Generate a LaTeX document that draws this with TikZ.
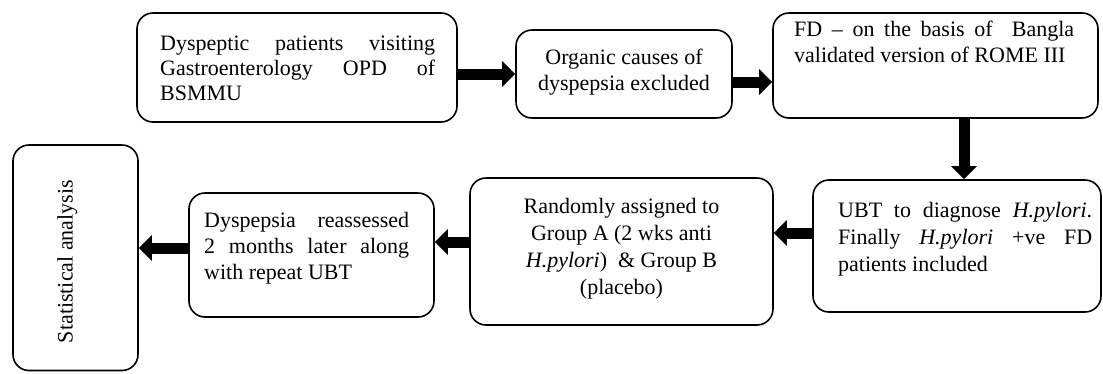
\documentclass[tikz,border=0pt]{standalone}
\usepackage{fontspec}
\setmainfont{Liberation Serif}
\usetikzlibrary{arrows.meta}
\newcommand\boxfont[1]{\fontsize{22}{#1}\selectfont\tolerance=10000 \hyphenpenalty=10000 }
\tikzset{
  box/.style={draw, line width=1.6pt, rounded corners=16pt, inner sep=0pt},
  jtxt/.style={inner sep=0pt, align=justify, anchor=north west},
  ctxt/.style={inner sep=0pt, align=center, anchor=north},
  blk/.style={line width=11pt, -{Triangle[width=25pt,length=13pt]}},
}
\begin{document}
\begin{tikzpicture}[x=1pt,y=-1pt]
\useasboundingbox (0,0) rectangle (1103,373);
% boxes
\node[box, minimum width=320pt, minimum height=109pt] (b1) at (297,67.5) {};
\node[box, minimum width=216pt, minimum height=88pt] (b2) at (624,74) {};
\node[box, minimum width=325pt, minimum height=105pt] (b3) at (935.5,65.5) {};
\node[box, minimum width=288pt, minimum height=132pt] (b4) at (957,246) {};
\node[box, minimum width=303pt, minimum height=147pt] (b5) at (621.5,251.5) {};
\node[box, minimum width=245pt, minimum height=124pt] (b6) at (311.5,255) {};
\node[box, minimum width=125pt, minimum height=225.5pt] (st) at (75.5,257.75) {};
% texts
\node[jtxt, text width=275pt, font=\boxfont{25}] (t1) at (160,32.5)
  {\strut Dyspeptic patients visiting\linebreak Gastroenterology OPD of\linebreak BSMMU};
\node[ctxt, font=\boxfont{26}] (t2) at (624,45.8)
  {\strut Organic causes of\\dyspepsia excluded};
\node[jtxt, text width=280pt, font=\boxfont{26}] (t3) at (794,17.8)
  {\strut FD -- on the basis of~ Bangla\linebreak validated version of ROME III};
\node[jtxt, text width=254pt, font=\boxfont{27}] (t4) at (838,198.1)
  {\strut UBT to diagnose \textit{H.pylori}.\linebreak Finally \textit{H.pylori} +ve FD\linebreak patients included};
\node[ctxt, font=\boxfont{27}] (t5) at (621.5,194.1)
  {\strut Randomly assigned to\\Group A (2 wks anti\\\textit{H.pylori})~ \& Group B\\(placebo)};
\node[jtxt, text width=205pt, font=\boxfont{26}] (t6) at (204,208.8)
  {\strut Dyspepsia reassessed\linebreak 2 months later along\linebreak with repeat UBT};
\node[inner sep=0pt, anchor=base, rotate=90, font=\boxfont{25}] (t7) at (72.5,261.5)
  {Statistical analysis};
% arrows
\draw[blk] (b2.west -| b1.east) -- (b2.west);
\draw[blk] ([yshift=-8pt]b2.east) -- ([yshift=-8pt]b2.east -| b3.west);
\draw[blk] ([xshift=28.5pt]b3.south) -- ([xshift=28.5pt]b3.south |- b4.north);
\draw[blk] ([yshift=13pt]b4.west) -- ([yshift=13pt]b4.west -| b5.east);
\draw[blk] ([yshift=9.5pt]b5.west) -- ([yshift=9.5pt]b5.west -| b6.east);
\draw[blk] ([yshift=7pt]b6.west) -- ([yshift=7pt]b6.west -| st.east);
\end{tikzpicture}
\end{document}
